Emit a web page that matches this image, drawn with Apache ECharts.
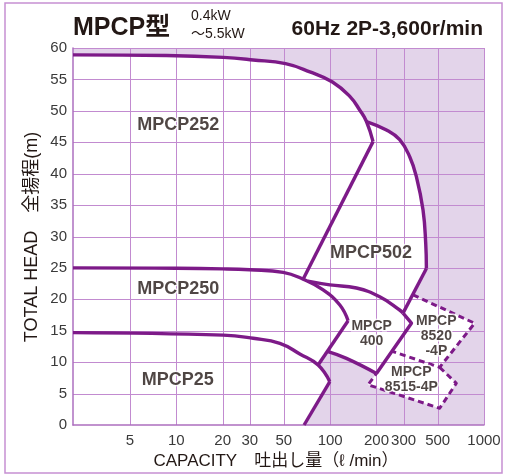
<!DOCTYPE html>
<html><head><meta charset="utf-8">
<script src="https://cdn.jsdelivr.net/npm/echarts@6/dist/echarts.min.js"></script>
<style>html,body{margin:0;padding:0;background:#fff}#c{width:506px;height:475px}</style>
</head><body><div id="c"></div>
<script>
// ---- axes ----
const xTicks = [5, 10, 20, 30, 50, 100, 200, 300, 500, 1000];
const yTicks = [0, 5, 10, 15, 20, 25, 30, 35, 40, 45, 50, 55, 60];
const xMin = 2.13, xMax = 1000;

// ---- curves [capacity l/min, head m] ----
const mpcp252 = [[2.13,58.9],[8.65,58.8],[20.2,58.5],[31.6,58.1],[51.3,57.5],[73.8,56.2],[103.5,54.6],[134.2,52.3],[155.9,50.1],[172.2,48.3],[190,45.1]];
const mpcp502Left = [[190,45.1],[66.7,23.2]];
const mpcp502Top = [[172.2,48.3],[232.2,46.95],[283,45.4],[328.9,42.7],[363.7,39.5],[401.5,34.2],[418,28.9],[422.3,24.9]];
const mpcp502Right = [[422.3,24.9],[297.6,17.8]];
const mpcp250 = [[2.13,25.0],[10,24.95],[20,24.85],[30,24.7],[49.5,24.3],[66.7,23.2],[90,21.5],[115.6,19.1],[130.8,16.6]];
const mpcp400Top = [[71.6,22.9],[99.5,22.3],[148.3,21.8],[210,20.4],[283,18.3],[297.6,17.8]];
const mpcp400Right = [[297.6,17.8],[337.6,16.2],[200,8.2]];
const mpcp400Left = [[130.8,16.6],[83.5,9.55]];
const mpcp400Bottom = [[97,11.67],[127.6,10.6],[200,8.2]];
const mpcp25 = [[2.13,14.7],[20.2,14.3],[31.6,13.8],[47.1,13.0],[63.5,11.3],[83.5,9.55],[99.5,6.9]];
const mpcp25Drop = [[99.5,6.9],[67.7,0]];
const dash8520 = [[346,20.7],[869,16.2],[515,9.18],[256.4,11.67]];
const dash8515 = [[515,9.18],[661,6.64],[515,2.66],[176.3,6.4],[200,8.2]];

// ---- labels [x, y, text] ----
const bigLabels = [[10.3,47.7,'MPCP252'],[184.5,27.4,'MPCP502'],[10.3,21.6,'MPCP250'],[10.2,7.08,'MPCP25']];
const smallLabels = [[186,14.5,'MPCP\n400'],[490,14.2,'MPCP\n8520\n-4P'],[337,7.24,'MPCP\n8515-4P']];

// white operating envelope, built from the curves above
const envelope = [].concat(
  mpcp252.slice(0, 10),
  mpcp502Top.slice(1),
  dash8520.slice(0, 3),
  dash8515.slice(1),
  mpcp400Bottom.slice().reverse().slice(1),
  [mpcp400Left[1]],
  mpcp25Drop,
  [[xMin, 0]]
);

const PURPLE = '#7d1a88';
const SHADE = '#e3d4ea';
const GRID = '#c28bd0';
const AXIS = '#ad6fbf';
const TEXT = '#231815';
const FONT = '"Liberation Sans", Arial, "Noto Sans CJK JP", sans-serif';

function lineSeries(data, smooth, dashed) {
  return {
    type: 'line', data: data, smooth: smooth ? 0.45 : false,
    showSymbol: false, silent: true, z: 3, clip: false,
    lineStyle: {color: PURPLE, width: dashed ? 3 : 3.4, type: dashed ? [6, 4] : 'solid', cap: 'butt', join: 'round'}
  };
}

const chart = echarts.init(document.getElementById('c'), null, {renderer: 'canvas'});
chart.setOption({
  animation: false,
  grid: {left: 73, right: 22, top: 48, bottom: 50},
  xAxis: {
    type: 'log', logBase: 10, min: xMin, max: xMax, z: 1,
    axisLine: {show: true, lineStyle: {color: AXIS, width: 1.5}},
    axisTick: {show: false}, splitLine: {show: false}, minorSplitLine: {show: false},
    axisLabel: {customValues: xTicks, formatter: v => String(Math.round(v)), color: '#3a3a3a', fontSize: 15, fontFamily: FONT, margin: 8}
  },
  yAxis: {
    type: 'value', min: 0, max: 60, interval: 5, z: 1,
    axisLine: {show: true, lineStyle: {color: AXIS, width: 1.5}},
    axisTick: {show: false}, splitLine: {show: false},
    axisLabel: {color: '#3a3a3a', fontSize: 15, fontFamily: FONT, margin: 6}
  },
  graphic: [
    {type: 'rect', shape: {x: 5, y: 3, width: 497, height: 470}, style: {fill: 'none', stroke: '#c690d2', lineWidth: 1.5}, z: -10},
    {type: 'text', x: 73, y: 28, style: {text: 'MPCP型', font: 'bold 25px ' + FONT, fill: TEXT, verticalAlign: 'middle'}},
    {type: 'text', x: 191, y: 16, style: {text: '0.4kW', font: '14px ' + FONT, fill: TEXT, verticalAlign: 'middle'}},
    {type: 'text', x: 191, y: 34, style: {text: '～5.5kW', font: '14px ' + FONT, fill: TEXT, verticalAlign: 'middle'}},
    {type: 'text', x: 483, y: 29, style: {text: '60Hz 2P-3,600r/min', font: 'bold 21px ' + FONT, fill: TEXT, align: 'right', verticalAlign: 'middle'}},
    {type: 'text', x: 32, y: 237, rotation: Math.PI / 2, style: {text: 'TOTAL HEAD　全揚程(m)', font: '18px ' + FONT, fill: TEXT, align: 'center', verticalAlign: 'middle'}},
    {type: 'text', x: 276, y: 461, style: {text: 'CAPACITY　吐出し量（ℓ /min）', font: '17px ' + FONT, fill: TEXT, align: 'center', verticalAlign: 'middle'}}
  ],
  series: [
    {
      type: 'custom', z: 0, silent: true, clip: false, data: [[10, 10]],
      renderItem: function (params, api) {
        const p = d => api.coord(d);
        const tl = p([xMin, 60]), br = p([xMax, 0]);
        const children = [
          {type: 'rect', shape: {x: tl[0], y: tl[1], width: br[0] - tl[0], height: br[1] - tl[1]}, style: {fill: SHADE}},
          {type: 'polygon', shape: {points: envelope.map(p)}, style: {fill: '#ffffff'}}
        ];
        xTicks.forEach(v => {
          const a = p([v, 0]), b = p([v, 60]);
          const x = Math.round(a[0]) + 0.5;
          children.push({type: 'line', shape: {x1: x, y1: a[1], x2: x, y2: b[1]}, style: {stroke: GRID, lineWidth: 1}});
        });
        yTicks.filter(v => v > 0).forEach(v => {
          const a = p([xMin, v]), b = p([xMax, v]);
          const y = Math.round(a[1]) + 0.5;
          children.push({type: 'line', shape: {x1: a[0], y1: y, x2: b[0], y2: y}, style: {stroke: GRID, lineWidth: 1}});
        });
        return {type: 'group', children: children};
      }
    },
    lineSeries(mpcp252, true),
    lineSeries(mpcp502Left, false),
    lineSeries(mpcp502Top, true),
    lineSeries(mpcp502Right, false),
    lineSeries(mpcp250, true),
    lineSeries(mpcp400Top, true),
    lineSeries(mpcp400Right, false),
    lineSeries(mpcp400Left, false),
    lineSeries(mpcp400Bottom, true),
    lineSeries(mpcp25, true),
    lineSeries(mpcp25Drop, false),
    lineSeries(dash8520, false, true),
    lineSeries(dash8515, false, true),
    {
      type: 'scatter', data: bigLabels, symbolSize: 0, silent: true, z: 5,
      label: {show: true, position: 'inside', formatter: p => p.value[2], fontFamily: FONT, fontWeight: 'bold', fontSize: 18,
        color: TEXT, textBorderColor: '#fff', textBorderWidth: 3}
    },
    {
      type: 'scatter', data: smallLabels, symbolSize: 0, silent: true, z: 5,
      label: {show: true, position: 'inside', formatter: p => p.value[2], fontFamily: FONT, fontWeight: 'bold', fontSize: 14, lineHeight: 15,
        color: TEXT, textBorderColor: '#fff', textBorderWidth: 3}
    }
  ]
});
</script>
</body></html>
